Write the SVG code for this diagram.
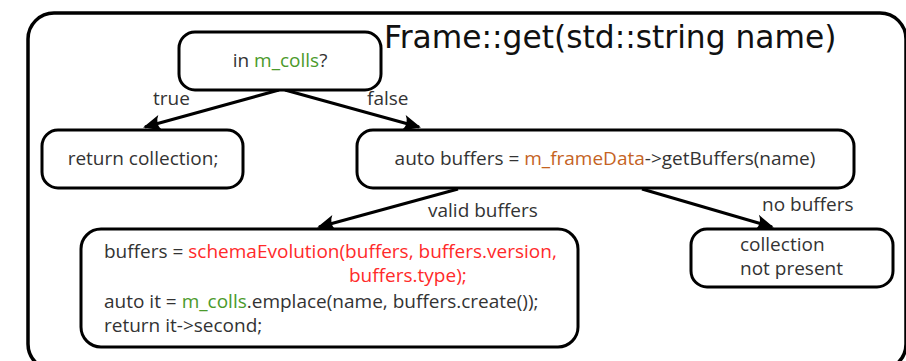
<svg xmlns="http://www.w3.org/2000/svg" width="906" height="361" viewBox="0 0 906 361">
<style>
.box{fill:#fff;stroke:#000;stroke-width:3}
.t{font-family:"Open Sans","Noto Sans",sans-serif;font-size:19px;fill:#333}
.g{fill:#4b9a2b}
.o{fill:#c5631f}
.r{fill:#ff2a2a}
.edge{fill:none;stroke:#000;stroke-width:3}
</style>
<defs>
<marker id="ah" markerUnits="userSpaceOnUse" markerWidth="24" markerHeight="20" viewBox="-20 -10 24 20" refX="0" refY="0" orient="auto">
<path d="M2,0 L-16,-8 Q-10,0 -16,8 Z" fill="#000"/>
</marker>
</defs>
<rect width="906" height="361" fill="#fff"/>
<g id="frame">
<rect x="28" y="13" width="878" height="357" rx="26" fill="none" stroke="#000" stroke-width="3.5"/>
<text x="384" y="48" style="font-family:'DejaVu Sans',sans-serif;font-size:31.3px;fill:#111">Frame::get(std::string name)</text>
</g>
<g id="connectors">
<line class="edge" x1="279" y1="90" x2="145" y2="127" marker-end="url(#ah)"/>
<line class="edge" x1="285" y1="90" x2="419" y2="127" marker-end="url(#ah)"/>
<line class="edge" x1="458" y1="189" x2="319" y2="227" marker-end="url(#ah)"/>
<line class="edge" x1="642" y1="189" x2="772" y2="227" marker-end="url(#ah)"/>
<text class="t" x="153" y="105">true</text>
<text class="t" x="367" y="105">false</text>
<text class="t" x="428" y="217">valid buffers</text>
<text class="t" x="762" y="211">no buffers</text>
</g>
<g id="n1">
<rect class="box" x="179" y="32" width="202" height="58" rx="16"/>
<text class="t" x="280" y="67" text-anchor="middle">in <tspan class="g">m_colls</tspan>?</text>
</g>
<g id="n2">
<rect class="box" x="42" y="130" width="201" height="58" rx="16"/>
<text class="t" x="143" y="165" text-anchor="middle">return collection;</text>
</g>
<g id="n3">
<rect class="box" x="357" y="130" width="497" height="58" rx="16"/>
<text class="t" x="605" y="165" text-anchor="middle">auto buffers = <tspan class="o">m_frameData</tspan>-&gt;getBuffers(name)</text>
</g>
<g id="n4">
<rect class="box" x="81" y="229" width="497" height="118" rx="20"/>
<text class="t" x="104" y="258">buffers = <tspan class="r">schemaEvolution(buffers, buffers.version,</tspan></text>
<text class="t r" x="349" y="282">buffers.type);</text>
<text class="t" x="104" y="308">auto it = <tspan class="g">m_colls</tspan>.emplace(name, buffers.create());</text>
<text class="t" x="104" y="332">return it-&gt;second;</text>
</g>
<g id="n5">
<rect class="box" x="691" y="229" width="202" height="58" rx="16"/>
<text class="t" x="740" y="251">collection</text>
<text class="t" x="740" y="275">not present</text>
</g>
</svg>
